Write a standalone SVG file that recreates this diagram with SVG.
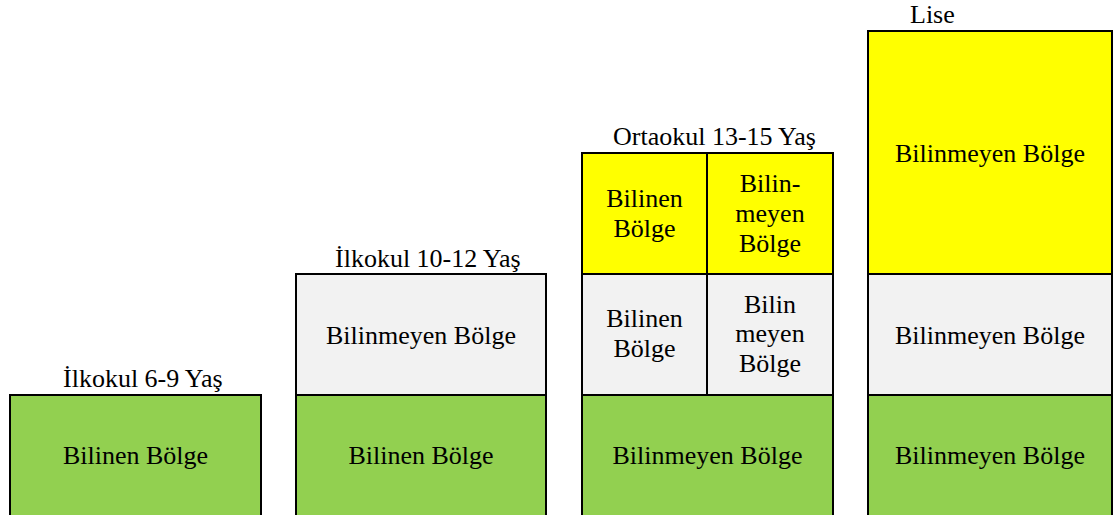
<svg xmlns="http://www.w3.org/2000/svg" width="1113" height="515" viewBox="0 0 1113 515">
<rect width="1113" height="515" fill="#fff"/>
<g stroke="#000" stroke-width="2">
<g id="col1">
<rect fill="#92D050" x="10" y="395" width="251" height="130"/>
</g>
<g id="col2">
<rect fill="#92D050" x="296" y="395" width="250" height="130"/>
<rect fill="#F2F2F2" x="296" y="274" width="250" height="121"/>
</g>
<g id="col3">
<rect fill="#92D050" x="582" y="395" width="251" height="130"/>
<rect fill="#F2F2F2" x="582" y="274" width="125" height="121"/>
<rect fill="#F2F2F2" x="707" y="274" width="126" height="121"/>
<rect fill="#FFFF00" x="582" y="153" width="125" height="121"/>
<rect fill="#FFFF00" x="707" y="153" width="126" height="121"/>
</g>
<g id="col4">
<rect fill="#92D050" x="868" y="395" width="244" height="130"/>
<rect fill="#F2F2F2" x="868" y="274" width="244" height="121"/>
<rect fill="#FFFF00" x="868" y="31" width="244" height="243"/>
</g>
</g>
<g id="labels" font-family="'Times New Roman', 'Liberation Serif', serif" font-size="26" fill="#000">
<text text-anchor="middle" x="135.5" y="464">Bilinen Bölge</text>
<text x="63" y="387">İlkokul 6-9 Yaş</text>
<text text-anchor="middle" x="421" y="464">Bilinen Bölge</text>
<text text-anchor="middle" x="421" y="344">Bilinmeyen Bölge</text>
<text x="335" y="267">İlkokul 10-12 Yaş</text>
<text text-anchor="middle" x="707.5" y="464">Bilinmeyen Bölge</text>
<text text-anchor="middle" x="644.5" y="207">Bilinen</text>
<text text-anchor="middle" x="644.5" y="237">Bölge</text>
<text text-anchor="middle" x="770" y="192">Bilin-</text>
<text text-anchor="middle" x="770" y="222">meyen</text>
<text text-anchor="middle" x="770" y="252">Bölge</text>
<text text-anchor="middle" x="644.5" y="327">Bilinen</text>
<text text-anchor="middle" x="644.5" y="357">Bölge</text>
<text text-anchor="middle" x="770" y="313">Bilin</text>
<text text-anchor="middle" x="770" y="342">meyen</text>
<text text-anchor="middle" x="770" y="372">Bölge</text>
<text x="613" y="145">Ortaokul 13-15 Yaş</text>
<text text-anchor="middle" x="990" y="464">Bilinmeyen Bölge</text>
<text text-anchor="middle" x="990" y="344">Bilinmeyen Bölge</text>
<text text-anchor="middle" x="990" y="162">Bilinmeyen Bölge</text>
<text x="910" y="23">Lise</text>
</g>
<g id="connectors"/>
</svg>
